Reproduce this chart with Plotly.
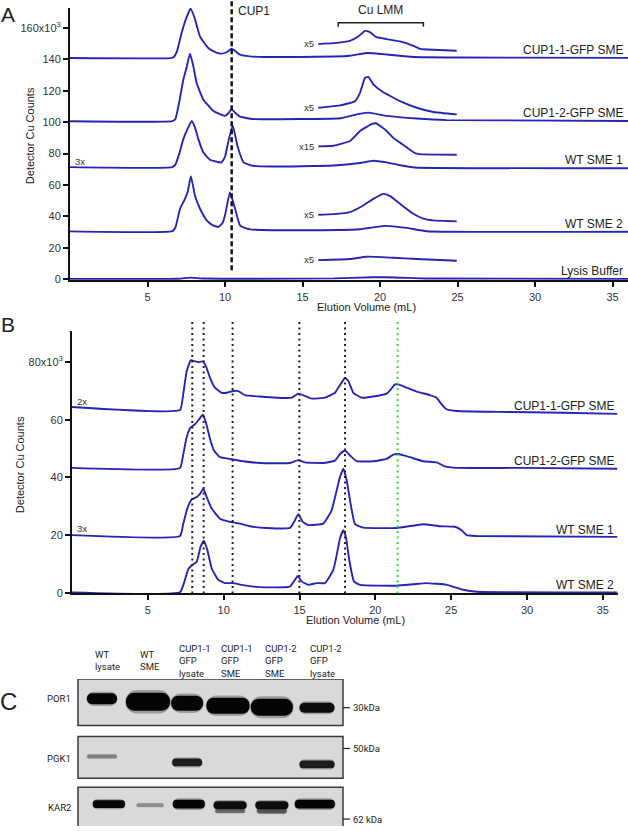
import plotly.graph_objects as go

# ---------------- Panel A data: elution volume (mL) vs detector Cu counts (x10^3) ----------------
a_cup11_x = [0, 6.5, 6.7, 6.9, 7.2, 7.53, 7.78, 8.05, 8.39, 8.92, 9.4, 9.78, 10.1, 10.43, 10.7, 10.97, 11.6, 12.5, 14.8, 17.0, 18.06, 19.14, 20.43, 22.15, 25.4, 36]
a_cup11_y = [140.8, 140.8, 141.5, 145, 156.8, 167, 172.3, 166, 154.5, 147.2, 144.5, 143.6, 144.5, 146.7, 145, 143, 141.9, 141.5, 141.5, 141.8, 142.3, 144, 143.1, 141.5, 141.2, 140.9]
a_cup12_x = [0, 6.6, 6.8, 7.05, 7.31, 7.5, 7.74, 7.95, 8.17, 8.6, 9.25, 10.0, 10.2, 10.43, 10.65, 10.97, 11.8, 14.84, 17.5, 18.5, 19.25, 20.43, 22.37, 24.3, 36]
a_cup12_y = [100.6, 100.7, 102, 113, 127, 134, 143.6, 136, 125, 114.5, 107.1, 104, 105.5, 108.2, 106, 103.5, 102, 102, 102.5, 105, 106.1, 104, 102.3, 101.3, 100.8]
a_wt1_x = [0, 6.6, 6.8, 7.05, 7.31, 7.6, 7.85, 8.05, 8.28, 8.6, 9.03, 9.4, 9.78, 10.0, 10.2, 10.5, 10.8, 11.2, 11.8, 13, 17, 18.71, 19.57, 20.43, 21.29, 22.26, 36]
a_wt1_y = [71.4, 71.4, 73, 80, 89.2, 96, 100.8, 97, 89.2, 80.8, 76.1, 75, 74.4, 78, 87.1, 98, 85, 74.4, 72.3, 71.8, 72.4, 74, 75.5, 74.4, 72.6, 71.2, 70.7]
a_wt2_x = [0, 6.6, 6.8, 7.1, 7.42, 7.6, 7.8, 8.06, 8.39, 8.82, 9.2, 9.57, 9.85, 10.0, 10.32, 10.65, 10.97, 11.4, 12, 14.84, 18.71, 20.32, 21.72, 23.01, 36]
a_wt2_y = [30.5, 30.7, 33, 44.9, 51.2, 56, 65.6, 53.3, 44.9, 37.5, 34.5, 33.3, 36, 40.7, 55.5, 44.9, 34.3, 32.3, 31.5, 31.2, 31.9, 34, 32.7, 30.6, 30.3]
a_lys_x = [0, 7.0, 7.8, 8.6, 12, 17, 19.5, 21, 23, 36]
a_lys_y = [0.3, 0.4, 1.1, 0.5, 0.4, 0.6, 1.3, 1.2, 0.5, 0.3]

# magnified Cu LMM segments (panel A)
m_cup11_x = [16.02, 17.0, 18.06, 18.6, 19.03, 19.35, 19.78, 20.43, 21.29, 22.15, 22.58, 23.44, 24.95]
m_cup11_y = [149.7, 150.3, 151.8, 154.5, 158.1, 157.3, 154.1, 152.9, 151.4, 148.6, 146.7, 146.1, 145.5]
m_cup12_x = [16.02, 17.42, 18.39, 18.71, 19.03, 19.25, 19.57, 20.11, 21.29, 22.37, 23.44, 24.95]
m_cup12_y = [109.2, 110.7, 113.4, 118.7, 128.2, 128.8, 124, 119.7, 113.4, 109.2, 106.5, 105]
m_wt1_x = [16.02, 17.0, 18.06, 18.71, 19.46, 19.74, 20.43, 20.86, 21.29, 21.72, 22.26, 22.5, 24.95]
m_wt1_y = [84.6, 85, 88, 94.4, 98.7, 99.3, 94.4, 90, 87, 84, 80.3, 79.7, 79.3]
m_wt2_x = [16.02, 17.0, 18.06, 18.92, 19.57, 20.22, 20.65, 21.29, 22.15, 22.8, 23.44, 24.95]
m_wt2_y = [41.1, 41.5, 42.8, 47, 51.2, 54.4, 52.9, 48.1, 41.7, 38.6, 37.5, 36.9]
m_lys_x = [16.02, 18.06, 19.14, 20.86, 22.37, 24.95]
m_lys_y = [12.2, 12.9, 14.4, 13.7, 12.9, 11.8]

a_names = ["CUP1-1-GFP SME", "CUP1-2-GFP SME", "WT SME 1", "WT SME 2", "Lysis Buffer"]
m_factors = ["x5", "x5", "x15", "x5", "x5"]
a_ytick_vals = [0, 20, 40, 60, 80, 100, 120, 140, 160]
a_ytick_text = ["0", "20", "40", "60", "80", "100", "120", "140", "160x10<sup>3</sup>"]
x_tick_vals = [5, 10, 15, 20, 25, 30, 35]
cup1_volume = 10.43
lmm_range = [17.3, 22.8]

# ---------------- Panel B data ----------------
b_cup11_x = [0, 7.12, 7.3, 7.56, 7.84, 8.11, 8.33, 8.62, 8.83, 9.1, 9.43, 9.87, 10.2, 10.63, 10.96, 11.4, 12.39, 13.49, 14.48, 14.92, 15.36, 15.8, 16.68, 17.34, 17.62, 17.78, 18.0, 18.22, 18.55, 19.1, 19.86, 20.74, 21.03, 21.29, 21.51, 22.06, 22.72, 23.6, 24.04, 24.37, 24.7, 25.36, 27.99, 32.39, 35.95]
b_cup11_y = [64.4, 63.3, 67.6, 76.8, 80.6, 80.2, 79.9, 80.2, 78.5, 74.5, 71.1, 69.3, 69.3, 69.9, 69.9, 68.5, 68, 67.6, 67.6, 69, 68.2, 67.3, 67.6, 69.3, 71.6, 72.8, 74.5, 73.4, 69.3, 67.6, 68, 69, 70.5, 72.2, 72.2, 71.1, 69.7, 68.5, 67.6, 65.3, 63.6, 63, 62.7, 62.4, 62]
b_cup12_x = [0, 7.12, 7.3, 7.56, 7.82, 8.11, 8.39, 8.62, 8.83, 9.1, 9.36, 9.76, 10.42, 11.3, 12.39, 14.37, 14.92, 15.36, 16.57, 17.34, 17.67, 18.0, 18.33, 18.77, 19.86, 20.74, 21.18, 21.51, 22.28, 23.16, 24.04, 24.59, 25.36, 29.7, 35.95]
b_cup12_y = [43.3, 43.3, 47, 53.9, 57.3, 58.4, 60.2, 61.7, 59, 53.3, 49.3, 47, 46.4, 45.6, 45, 45, 46, 45.2, 45, 45.8, 48.1, 49.3, 47.6, 45.6, 45.6, 46.4, 47.9, 48.1, 47, 45.6, 45.2, 43.8, 43.3, 43.3, 43]
b_wt1_x = [0, 7.12, 7.34, 7.6, 7.89, 8.22, 8.44, 8.66, 8.88, 9.21, 9.76, 10.42, 11.07, 11.73, 12.83, 14.37, 14.7, 14.92, 15.21, 15.58, 16.57, 17.12, 17.45, 17.67, 17.89, 18.11, 18.37, 18.66, 19.2, 21.4, 23.16, 24.26, 25.25, 25.69, 26.02, 26.68, 35.95]
b_wt1_y = [20, 19.7, 24, 29.2, 32.3, 33.2, 34.3, 36.1, 33.2, 29.2, 25.7, 24.6, 24, 23.1, 22.5, 22.5, 25.2, 27.3, 24.6, 23.5, 24, 28.6, 35.5, 40.1, 43, 39, 30.9, 23.8, 22.6, 22.5, 23.8, 23.1, 22.9, 21.7, 20, 19.7, 19.4]
b_wt2_x = [0, 7.12, 7.38, 7.67, 7.93, 8.22, 8.48, 8.7, 8.92, 9.21, 9.65, 10.09, 10.63, 11.18, 12.39, 14.37, 14.7, 14.88, 15.14, 15.58, 16.13, 16.68, 17.23, 17.56, 17.67, 17.89, 18.06, 18.28, 18.59, 18.99, 21.4, 22.5, 23.38, 24.7, 25.79, 26.68, 35.95]
b_wt2_y = [0.2, 0.2, 3.4, 8.3, 9.7, 10.8, 16, 18.1, 14.9, 8.5, 4.5, 3.4, 3.4, 2.8, 2, 2.2, 4.5, 5.9, 4, 2.8, 3.4, 3.4, 8, 16, 18.9, 21.7, 19.4, 11.4, 4, 2.8, 2.5, 3, 3.4, 2.8, 1.1, 0.4, 0.2]
b_names = ["CUP1-1-GFP SME", "CUP1-2-GFP SME", "WT SME 1", "WT SME 2"]
b_ytick_vals = [0, 20, 40, 60, 80]
b_ytick_text = ["0", "20", "40", "60", "80x10<sup>3</sup>"]
b_black_markers = [7.93, 8.68, 10.59, 14.99, 18.0]
b_green_markers = [21.47]

# ---------------- Panel C data (western blot) ----------------
lane_labels = ["WT<br>lysate", "WT<br>SME", "CUP1-1<br>GFP<br>lysate", "CUP1-1<br>GFP<br>SME", "CUP1-2<br>GFP<br>SME", "CUP1-2<br>GFP<br>lysate"]
blot_rows = ["POR1", "PGK1", "KAR2"]
blot_row_top = [683, 741, 792]
blot_row_bottom = [730, 783, 845]
blot_row_label_y = [703, 763, 812]
mw_labels = ["30kDa", "50kDa", "62 kDa"]
mw_pos = [712, 753, 824]
band_lane = [1.0, 2.07, 2.98, 3.93, 4.95, 6.0, 1.0, 2.98, 6.0, 1.16, 2.12, 3.02, 3.98, 4.95, 5.95, 3.98, 4.95]
band_center = [703, 706, 707.5, 710, 711.5, 712, 761, 767, 769, 809, 810, 809, 810, 810, 809, 816, 816]
band_height = [11, 18, 15, 16, 17, 10, 4, 8, 8, 8, 4, 9, 8, 8, 9, 4, 5]
band_width = [30, 44, 32, 43, 42, 35, 30, 30, 35, 32, 27, 32, 33, 33, 40, 30, 30]
band_intensity = [1, 1, 1, 1, 1, 0.95, 0.35, 0.85, 0.85, 1, 0.3, 1, 0.95, 0.95, 1, 0.45, 0.55]

# ---------------- figure ----------------
W, H = 628, 831
BLUE = "#2626b4"
FONT = "Liberation Sans, Arial, sans-serif"
BLOTFONT = "Liberation Sans Narrow, Roboto, sans-serif"
LANE_PX = 43.0


def pxx(p):
    return p / W


def pxy(p):
    return 1 - p / H


fig = go.Figure()


def add_line(x, y, xa, ya, width=1.9):
    fig.add_trace(go.Scatter(x=x, y=y, xaxis=xa, yaxis=ya, mode="lines",
                             line=dict(color=BLUE, width=width, shape="spline", smoothing=0.4),
                             showlegend=False, hoverinfo="skip"))


for xs, ys in [(a_cup11_x, a_cup11_y), (a_cup12_x, a_cup12_y), (a_wt1_x, a_wt1_y),
               (a_wt2_x, a_wt2_y), (a_lys_x, a_lys_y)]:
    add_line(xs, ys, "x", "y")
for xs, ys in [(m_cup11_x, m_cup11_y), (m_cup12_x, m_cup12_y), (m_wt1_x, m_wt1_y),
               (m_wt2_x, m_wt2_y), (m_lys_x, m_lys_y)]:
    add_line(xs, ys, "x", "y")
for xs, ys in [(b_cup11_x, b_cup11_y), (b_cup12_x, b_cup12_y), (b_wt1_x, b_wt1_y), (b_wt2_x, b_wt2_y)]:
    add_line(xs, ys, "x2", "y2")

# blot bands: soft halo + core
halo_base = [c - h * 0.65 for c, h in zip(band_center, band_height)]
halo_h = [h * 1.3 for h in band_height]
fig.add_trace(go.Bar(x=band_lane, y=halo_h, base=halo_base,
                     width=[w / LANE_PX * 1.04 for w in band_width],
                     marker=dict(color=[f"rgba(20,20,20,{i*0.3:.2f})" for i in band_intensity],
                                 line=dict(width=0), cornerradius="50%"),
                     xaxis="x3", yaxis="y3", showlegend=False, hoverinfo="skip"))
fig.add_trace(go.Bar(x=band_lane, y=band_height, base=[c - h / 2 for c, h in zip(band_center, band_height)],
                     width=[w / LANE_PX for w in band_width],
                     marker=dict(color=[f"rgba(5,5,5,{i:.2f})" for i in band_intensity],
                                 line=dict(width=0), cornerradius="45%"),
                     xaxis="x3", yaxis="y3", showlegend=False, hoverinfo="skip"))

shapes = []
# CUP1 dashed marker (panel A)
shapes.append(dict(type="line", xref="x", yref="paper", x0=cup1_volume, x1=cup1_volume,
                   y0=pxy(272), y1=pxy(1), line=dict(color="#111", width=2.5, dash="5px,3px")))
# Cu LMM bracket
shapes.append(dict(type="path", xref="x", yref="paper",
                   path=f"M {lmm_range[0]},{pxy(27)} L {lmm_range[0]},{pxy(23)} L {lmm_range[1]},{pxy(23)} L {lmm_range[1]},{pxy(27)}",
                   line=dict(color="#222", width=1.5)))
# dotted markers (panel B)
for v in b_black_markers:
    shapes.append(dict(type="line", xref="x2", yref="paper", x0=v, x1=v, y0=pxy(597), y1=pxy(323),
                       line=dict(color="#222", width=2, dash="2px,3.5px")))
for v in b_green_markers:
    shapes.append(dict(type="line", xref="x2", yref="paper", x0=v, x1=v, y0=pxy(597), y1=pxy(323),
                       line=dict(color="#33dd33", width=2, dash="2px,3.5px")))
# blot boxes
for t, b in zip(blot_row_top, blot_row_bottom):
    shapes.append(dict(type="rect", xref="x3 domain", yref="y3", x0=0, x1=1, y0=t, y1=b,
                       fillcolor="#d9d9d9", line=dict(color="#3a3a3a", width=1.5), layer="below"))
for m in mw_pos:
    shapes.append(dict(type="line", xref="paper", yref="y3", x0=pxx(343), x1=pxx(350), y0=m, y1=m,
                       line=dict(color="#222", width=1.2)))

ann = []


def text(t, x, y, size=12, xanchor="center", yanchor="middle", font=FONT, color="#222", align="center", angle=0):
    ann.append(dict(text=t, x=pxx(x), y=pxy(y), xref="paper", yref="paper", showarrow=False,
                    xanchor=xanchor, yanchor=yanchor, align=align, textangle=angle,
                    font=dict(size=size, family=font, color=color)))


# panel letters
text("A", 8, 15, size=21)
text("B", 8, 326, size=21)
text("C", 8, 706, size=24)

# panel A labels
a_label_px = [50, 114, 161, 225, 273]
for n, yp in zip(a_names, a_label_px):
    text(n, 625, yp, size=12, xanchor="right")
m_label_px = [44, 108, 147, 216, 261]
for f, yp in zip(m_factors, m_label_px):
    text(f, 316, yp, size=9.5, xanchor="right", color="#333")
text("3x", 73, 162, size=9.5, xanchor="left", color="#333")
text("CUP1", 236, 11, size=12, xanchor="left")
text("Cu LMM", 380, 10, size=12)
text("Elution Volume (mL)", 366, 309, size=11)
text("Detector Cu Counts", 30, 137, size=11, angle=-90)

# panel B labels
b_label_px = [408, 464, 533, 589]
for n, yp in zip(b_names, b_label_px):
    text(n, 616, yp, size=12, xanchor="right")
text("2x", 75, 404, size=9.5, xanchor="left", color="#333")
text("3x", 75, 532, size=9.5, xanchor="left", color="#333")
text("Elution Volume (mL)", 355, 624, size=11)
text("Detector Cu Counts", 20, 468, size=11, angle=-90)

# panel C labels
lane_left_px = [93, 138, 177, 219, 263, 308]
for lab, xl in zip(lane_labels, lane_left_px):
    text(lab, xl, 665, size=9.5, xanchor="left", align="left", font=BLOTFONT, color="#222")
for r, yp in zip(blot_rows, blot_row_label_y):
    text(r, 73, yp, size=9.5, xanchor="right", font=BLOTFONT, color="#222")
for m, yp in zip(mw_labels, mw_pos):
    text(m, 351, yp, size=9.5, xanchor="left", font=BLOTFONT, color="#222")

axis_common = dict(showline=True, linecolor="#111", linewidth=2, ticks="outside", ticklen=5,
                   tickwidth=1.5, tickcolor="#111", showgrid=False, zeroline=False,
                   tickfont=dict(size=11, color="#333", family=FONT))

fig.update_layout(
    width=W, height=H, margin=dict(l=0, r=0, t=0, b=0),
    paper_bgcolor="white", plot_bgcolor="rgba(0,0,0,0)",
    barmode="overlay", showlegend=False,
    xaxis=dict(domain=[pxx(70), 1], range=[0, 36], anchor="y", tickvals=x_tick_vals, **axis_common),
    yaxis=dict(domain=[pxy(282), pxy(8)], range=[-0.63, 172.7], anchor="x",
               tickvals=a_ytick_vals, ticktext=a_ytick_text, **axis_common),
    xaxis2=dict(domain=[pxx(72), pxx(618)], range=[0, 36], anchor="y2", tickvals=x_tick_vals, **axis_common),
    yaxis2=dict(domain=[pxy(597), pxy(333)], range=[-0.17, 90.7], anchor="x2",
                tickvals=b_ytick_vals, ticktext=b_ytick_text, **axis_common),
    xaxis3=dict(domain=[pxx(78), pxx(343)], range=[0.442, 6.605], anchor="y3", visible=False),
    yaxis3=dict(domain=[0, pxy(683)], range=[831, 683], anchor="x3", visible=False),
    shapes=shapes, annotations=ann,
)

fig.write_html("out.html", config={"displayModeBar": False},
               post_script="document.body.style.margin='0px';document.body.style.overflow='hidden';")
